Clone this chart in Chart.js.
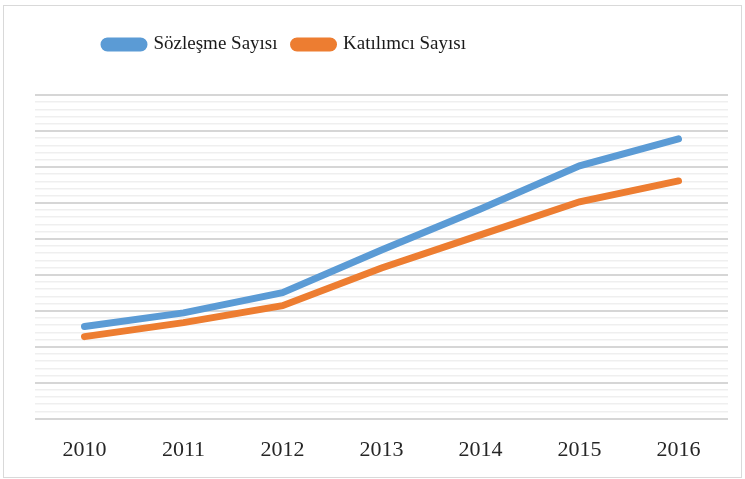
<!DOCTYPE html>
<html>
<head>
<meta charset="utf-8">
<script src="https://cdn.jsdelivr.net/npm/chart.js@4"></script>
<style>
  body { margin: 0; background: #fff; }
  #wrap { position: relative; width: 745px; height: 479px; }
  #frame { position: absolute; left: 3px; top: 5px; width: 737px; height: 471px; border: 1px solid #d9d9d9; pointer-events: none; }
</style>
</head>
<body>
<div id="wrap">
  <canvas id="grafico" width="745" height="479"></canvas>
  <div id="frame"></div>
</div>
<script>
const yillar = ['2010', '2011', '2012', '2013', '2014', '2015', '2016'];
const sozlesmeSayisi = [2.56, 2.94, 3.5, 4.69, 5.83, 7.03, 7.78];
const katilimciSayisi = [2.28, 2.67, 3.14, 4.19, 5.11, 6.03, 6.61];

const isMajor = v => Math.abs(v - Math.round(v)) < 1e-6;

// legend a bit higher than the plot and shifted to the left like the original
const legendSpace = {
    id: 'legendSpace',
    beforeInit(chart) {
        const fit = chart.legend.fit;
        chart.legend.fit = function () {
            fit.bind(chart.legend)();
            this.height += 26;
        };
    },
    afterLayout(chart) {
        const lg = chart.legend;
        const pad = lg.options.labels.padding;
        const start = (lg.left + pad + lg.right - lg.lineWidths[0]) / 2;
        const delta = 104 - start;
        lg.left += delta;
        lg.right += delta;
        lg.top -= 5;
        lg.bottom -= 5;
    }
};

const ctx = document.getElementById('grafico').getContext('2d');
new Chart(ctx, {
    type: 'line',
    data: {
        labels: yillar,
        datasets: [{
            label: 'Sözleşme Sayısı',
            data: sozlesmeSayisi,
            borderColor: '#5B9BD5',
            backgroundColor: '#5B9BD5',
            borderWidth: 7,
            borderCapStyle: 'round',
            pointRadius: 0,
            tension: 0
        }, {
            label: 'Katılımcı Sayısı',
            data: katilimciSayisi,
            borderColor: '#ED7D31',
            backgroundColor: '#ED7D31',
            borderWidth: 7,
            borderCapStyle: 'round',
            pointRadius: 0,
            tension: 0
        }]
    },
    options: {
        responsive: false,
        animation: false,
        layout: { padding: { left: 35, right: 17, top: 24, bottom: 6 } },
        plugins: {
            legend: {
                position: 'top',
                labels: {
                    boxWidth: 40,
                    boxHeight: 7,
                    useBorderRadius: true,
                    borderRadius: 3.5,
                    padding: 16,
                    color: '#1a1a1a',
                    font: { family: 'Liberation Serif', size: 19 }
                }
            },
            tooltip: { enabled: false }
        },
        scales: {
            x: {
                offset: true,
                grid: { display: false },
                border: { display: false },
                ticks: { color: '#262626', padding: 10, font: { family: 'Liberation Serif', size: 22 } }
            },
            y: {
                min: 0,
                max: 9,
                border: { display: false },
                ticks: { display: false, stepSize: 0.2, maxTicksLimit: 100 },
                grid: {
                    drawTicks: false,
                    color: c => isMajor(c.tick.value) ? '#d6d6d6' : '#efefef',
                    lineWidth: c => isMajor(c.tick.value) ? 2 : 1.5
                }
            }
        }
    },
    plugins: [legendSpace]
});
</script>
</body>
</html>
